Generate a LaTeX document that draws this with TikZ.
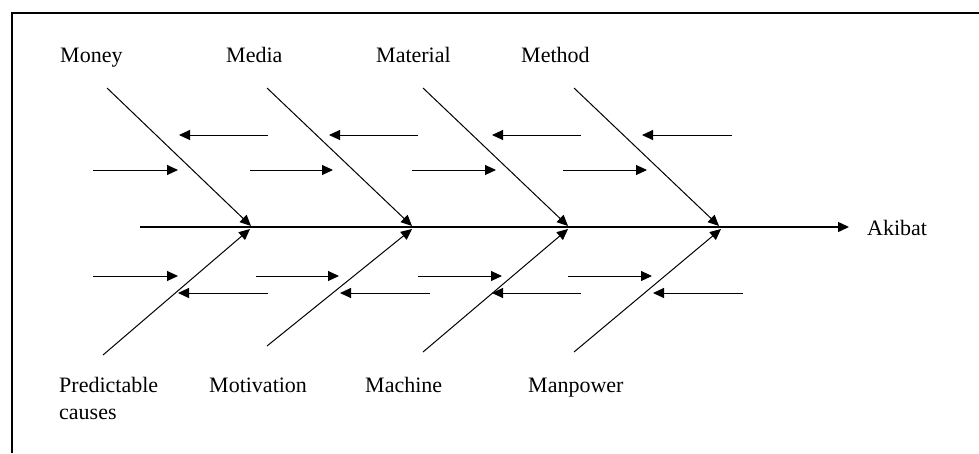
\documentclass[tikz,border=0pt]{standalone}
\usepackage{fontspec}
\setmainfont{Liberation Serif}
\usetikzlibrary{arrows.meta}
\begin{document}
\begin{tikzpicture}[x=1pt,y=-1pt,
  lbl/.style={font=\fontsize{22}{27}\selectfont, inner sep=0pt, anchor=base west},
  frameline/.style={line width=1.2pt},
  bone/.style={line width=1pt, -{Triangle[length=11pt,width=10pt]}},
  spine/.style={line width=1.4pt, -{Triangle[length=11pt,width=10pt]}},
  sub/.style={line width=1pt, -{Triangle[length=11pt,width=10pt]}}]
\useasboundingbox (0,0) rectangle (979,453);
% frame
\coordinate (fTL) at (12,13);
\coordinate (fTR) at (979,13);
\coordinate (fBL) at (12,453);
\draw[frameline] (fBL) -- (fTL) -- (fTR);
% spine
\coordinate (s0) at (140,227);
\coordinate (s1) at (849,227);
\draw[spine] (s0) -- (s1);
\node[lbl] (akibat) at (867,235) {Akibat};
% top labels
\node[lbl] (money) at (60,62) {Money};
\node[lbl] (media) at (226,62) {Media};
\node[lbl] (material) at (376,62) {Material};
\node[lbl] (method) at (521,62) {Method};
% bottom labels
\node[lbl, anchor=north west, align=left] (pred) at (59,377) {Predictable\\causes};
\node[lbl] (motiv) at (209,392) {Motivation};
\node[lbl] (machine) at (365,392) {Machine};
\node[lbl] (manpower) at (528,392) {Manpower};
% upper bones
\foreach \i/\xa/\xb in {1/107/251, 2/267/412, 3/423/568, 4/574/719}{
  \coordinate (ua\i) at (\xa,88);
  \coordinate (ub\i) at (\xb,226);
  \draw[bone] (ua\i) -- (ub\i);
}
% lower bones
\foreach \i/\xa/\ya/\xb in {1/103/355/250, 2/267/346/412, 3/423/352/568, 4/574/352/721}{
  \coordinate (la\i) at (\xa,\ya);
  \coordinate (lb\i) at (\xb,229);
  \draw[bone] (la\i) -- (lb\i);
}
% upper sub-causes: leftward at y=135
\foreach \i/\xa/\xb in {1/268/179, 2/418/329, 3/581/492, 4/732/642}{
  \coordinate (ula\i) at (\xa,135);
  \coordinate (ulb\i) at (\xb,135);
  \draw[sub] (ula\i) -- (ulb\i);
}
% upper sub-causes: rightward at y=170
\foreach \i/\xa/\xb in {1/93/178, 2/250/333, 3/412/496, 4/563/647}{
  \coordinate (ura\i) at (\xa,170);
  \coordinate (urb\i) at (\xb,170);
  \draw[sub] (ura\i) -- (urb\i);
}
% lower sub-causes: rightward at y=276
\foreach \i/\xa/\xb in {1/93/178, 2/256/339, 3/418/502, 4/568/652}{
  \coordinate (lra\i) at (\xa,276);
  \coordinate (lrb\i) at (\xb,276);
  \draw[sub] (lra\i) -- (lrb\i);
}
% lower sub-causes: leftward at y=293
\foreach \i/\xa/\xb in {1/268/178, 2/430/340, 3/581/492, 4/743/653}{
  \coordinate (lla\i) at (\xa,293);
  \coordinate (llb\i) at (\xb,293);
  \draw[sub] (lla\i) -- (llb\i);
}
\end{tikzpicture}
\end{document}
